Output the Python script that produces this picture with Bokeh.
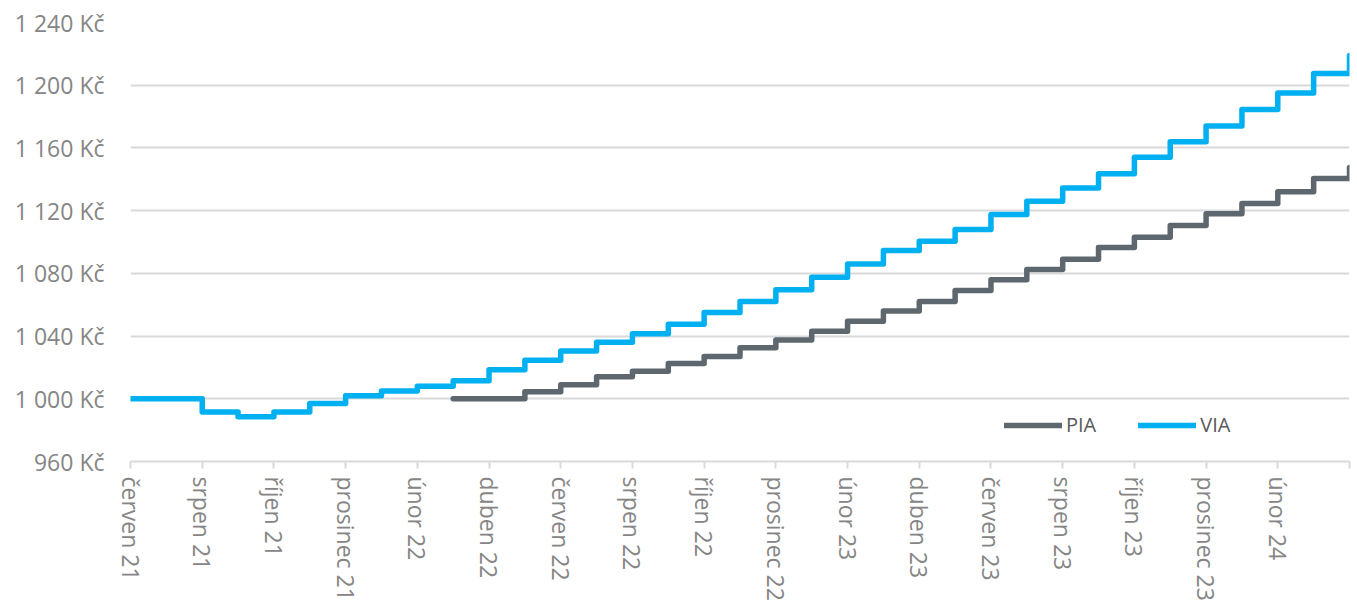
import math
from bokeh.plotting import figure
from bokeh.models import FixedTicker, Range1d, Legend, LegendItem
from bokeh.embed import file_html
from bokeh.resources import INLINE

# months Jun 2021 .. Apr 2024
months = ["červen 21", "červenec 21", "srpen 21", "září 21", "říjen 21", "listopad 21",
          "prosinec 21", "leden 22", "únor 22", "březen 22", "duben 22", "květen 22",
          "červen 22", "červenec 22", "srpen 22", "září 22", "říjen 22", "listopad 22",
          "prosinec 22", "leden 23", "únor 23", "březen 23", "duben 23", "květen 23",
          "červen 23", "červenec 23", "srpen 23", "září 23", "říjen 23", "listopad 23",
          "prosinec 23", "leden 24", "únor 24", "březen 24", "duben 24"]

via = [1000, 1000, 991.5, 988.5, 991.5, 997, 1002, 1005, 1008, 1011.5,
       1018.5, 1024.5, 1030.5, 1036, 1041.5, 1047.5, 1055, 1062, 1069.5, 1077.5,
       1086, 1094.5, 1100.5, 1108, 1117.5, 1126, 1134.5, 1143.5, 1154, 1164,
       1174, 1184.5, 1195, 1207.5, 1219]

pia = [None, None, None, None, None, None, None, None, None, 1000,
       1000, 1004.5, 1009, 1014, 1017.5, 1022.5, 1027, 1032.5, 1037.5, 1043,
       1049.5, 1056, 1062, 1069, 1076, 1082.5, 1089, 1096.5, 1103, 1110.5,
       1118, 1124.5, 1132, 1140.5, 1147.5]

y_ticks = [960, 1000, 1040, 1080, 1120, 1160, 1200, 1240]
y_labels = ["960 Kč", "1 000 Kč", "1 040 Kč", "1 080 Kč", "1 120 Kč", "1 160 Kč", "1 200 Kč", "1 240 Kč"]

x_all = list(range(len(months)))
pia_x = [i for i, v in zip(x_all, pia) if v is not None]
pia_y = [v for v in pia if v is not None]

p = figure(width=1353, height=610, output_backend="svg", toolbar_location=None,
           x_range=Range1d(0, len(months) - 1), y_range=Range1d(960, 1240),
           min_border_left=130, min_border_right=4, min_border_top=22, min_border_bottom=149)
p.outline_line_color = None
p.background_fill_color = "white"

label_font = "Open Sans"
label_color = "#858585"

# x axis
x_ticks = [i for i in x_all if i % 2 == 0]
p.xaxis.ticker = FixedTicker(ticks=x_ticks)
p.xaxis.major_label_overrides = {i: (months[i] if i < len(months) - 1 else "") for i in x_ticks}
p.xaxis.major_label_orientation = -math.pi / 2
p.xaxis.major_label_text_font = label_font
p.xaxis.major_label_text_font_size = "23px"
p.xaxis.major_label_text_color = label_color
p.xaxis.major_label_standoff = 8
p.xaxis.axis_line_color = "#d9d9d9"
p.xaxis.axis_line_width = 2
p.xaxis.major_tick_line_color = "#d9d9d9"
p.xaxis.major_tick_line_width = 2
p.xaxis.major_tick_in = 0
p.xaxis.major_tick_out = 7
p.xaxis.minor_tick_line_color = None

# y axis
p.yaxis.ticker = FixedTicker(ticks=y_ticks)
p.yaxis.major_label_overrides = dict(zip(y_ticks, y_labels))
p.yaxis.major_label_text_font = label_font
p.yaxis.major_label_text_font_size = "23px"
p.yaxis.major_label_text_color = label_color
p.yaxis.axis_line_color = None
p.yaxis.major_tick_line_color = None
p.yaxis.minor_tick_line_color = None
p.yaxis.major_label_standoff = 20

p.xgrid.grid_line_color = None
p.ygrid.grid_line_color = "#d9d9d9"
p.ygrid.grid_line_width = 2

r_pia = p.step(pia_x, pia_y, mode="after", line_color="#5f676e", line_width=5.5,
               line_join="round", line_cap="round")
r_via = p.step(x_all, via, mode="after", line_color="#00b0f0", line_width=5.5,
               line_join="round", line_cap="round")

legend = Legend(items=[LegendItem(label="PIA", renderers=[r_pia]),
                       LegendItem(label="VIA", renderers=[r_via])],
                location=(874, 23), orientation="horizontal",
                glyph_width=58, glyph_height=20, label_height=20,
                label_standoff=4, spacing=42, padding=0, margin=0,
                border_line_color=None, background_fill_alpha=0,
                label_text_font="Open Sans", label_text_font_size="20px",
                label_text_color="#595959")
p.add_layout(legend)

open("out.html", "w").write(file_html(p, INLINE))
